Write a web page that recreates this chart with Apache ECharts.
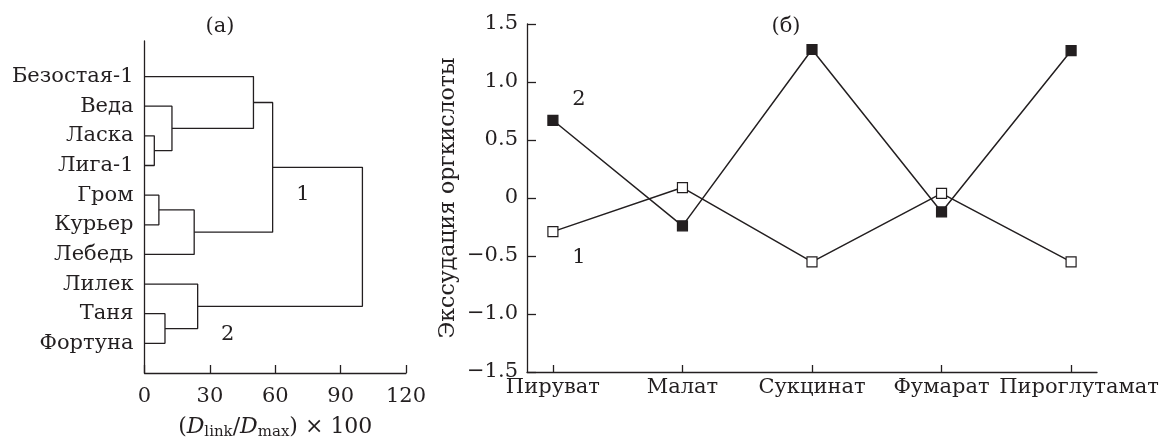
<!DOCTYPE html>
<html><head><meta charset="utf-8">
<script src="https://cdn.jsdelivr.net/npm/echarts@6/dist/echarts.min.js"></script>
<style>html,body{margin:0;padding:0;background:#fff}#c{width:1163px;height:439px}</style>
</head><body><div id="c"></div>
<script>
// ---- Panel (a): dendrogram ----
const leaves = ['Безостая-1','Веда','Ласка','Лига-1','Гром','Курьер','Лебедь','Лилек','Таня','Фортуна'];
const mergePairs = [['Ласка','Лига-1'],['Веда','m0'],['Безостая-1','m1'],['Гром','Курьер'],['m3','Лебедь'],['m2','m4'],['Таня','Фортуна'],['Лилек','m6'],['m5','m7']];
const mergeHeights = [4.5, 12.6, 50, 6.6, 22.8, 58.8, 9.4, 24.4, 100];
const dendroTicks = [0, 30, 60, 90, 120];
const clusterLabels = ['1','2'];
const clusterLabelPos = [[72.7, 6.03],[38.2, 1.31]];

// ---- Panel (б): line chart ----
const acids = ['Пируват','Малат','Сукцинат','Фумарат','Пироглутамат'];
const series1 = [-0.29, 0.09, -0.55, 0.04, -0.55];
const series2 = [0.67, -0.24, 1.28, -0.12, 1.27];
const seriesLabels = ['1','2'];
const seriesLabelPos = [[0.2, -0.51],[0.2, 0.85]];

const FONT = 'DejaVu Serif';
const TXT = '#231f20';
const FS = 21;

// build dendrogram nodes
const nodes = {};
leaves.forEach((n, i) => { nodes[n] = {h: 0, y: leaves.length - i}; });
const linkSeries = [];
mergePairs.forEach((p, i) => {
  const a = nodes[p[0]], b = nodes[p[1]], h = mergeHeights[i];
  nodes['m' + i] = {h: h, y: (a.y + b.y) / 2};
  linkSeries.push({
    type: 'line', xAxisIndex: 0, yAxisIndex: 0, symbol: 'none', silent: true,
    lineStyle: {color: TXT, width: 1.3},
    data: [[a.h, a.y],[h, a.y],[h, b.y],[b.h, b.y]]
  });
});

const annLabel = arr => ({show: true, position: 'inside', formatter: p => arr[p.dataIndex],
  fontFamily: FONT, fontSize: FS, color: TXT, textBorderWidth: 0, opacity: 1});

const chart = echarts.init(document.getElementById('c'));
chart.setOption({
  animation: false,
  backgroundColor: '#fff',
  textStyle: {fontFamily: FONT, color: TXT},
  title: [
    {text: '(a)', left: 215, top: 11, textAlign: 'center', textStyle: {fontFamily: FONT, fontSize: FS, fontWeight: 'normal', color: TXT}},
    {text: '(б)', left: 781, top: 11, textAlign: 'center', textStyle: {fontFamily: FONT, fontSize: FS, fontWeight: 'normal', color: TXT}}
  ],
  grid: [
    {left: 144.5, right: 757, top: 41, bottom: 66, containLabel: false, outerBoundsMode: 'none'},
    {left: 527, right: 66, top: 24, bottom: 67, containLabel: false, outerBoundsMode: 'none'}
  ],
  xAxis: [
    {type: 'value', gridIndex: 0, min: 0, max: 120, interval: 30,
     axisLine: {onZero: false, lineStyle: {color: TXT, width: 1.3}},
     axisTick: {inside: true, length: 8, lineStyle: {color: TXT, width: 1.3}},
     splitLine: {show: false},
     axisLabel: {margin: 13, fontSize: FS, fontFamily: FONT, color: TXT,
       formatter: v => dendroTicks.indexOf(v) >= 0 ? String(v) : ''},
     name: '{p|(}{d|D}{s|link}{p|/}{d|D}{s|max}{p|) × 100}', nameLocation: 'middle', nameGap: 42,
     nameTextStyle: {rich: {
       p: {fontFamily: FONT, fontSize: 22, color: TXT},
       d: {fontFamily: FONT, fontSize: 22, fontStyle: 'italic', color: TXT},
       s: {fontFamily: FONT, fontSize: 15, color: TXT, verticalAlign: 'bottom', padding: [10, 0, 0, 0]}
     }}
    },
    {type: 'value', gridIndex: 1, min: -0.2, max: 4.2,
     axisLine: {onZero: false, lineStyle: {color: TXT, width: 1.3}},
     axisTick: {inside: true, length: 7, customValues: [0,1,2,3,4], lineStyle: {color: TXT, width: 1.3}},
     splitLine: {show: false},
     axisLabel: {margin: 5, fontSize: FS, fontFamily: FONT, color: TXT, customValues: [0,1,2,3,4],
       formatter: v => {
         const i = Math.round(v);
         if (!acids[i]) return '';
         return i === acids.length - 1 ? '{r|' + acids[i] + '}' : acids[i];
       },
       rich: {r: {fontFamily: FONT, fontSize: FS, color: TXT, padding: [0, 0, 0, 16]}}
     }
    }
  ],
  yAxis: [
    {type: 'value', gridIndex: 0, min: 0, max: 11.2, interval: 1,
     axisLine: {show: true, onZero: false, lineStyle: {color: TXT, width: 1.3}},
     axisTick: {show: false}, splitLine: {show: false},
     axisLabel: {margin: 11, fontSize: FS, fontFamily: FONT, color: TXT,
       formatter: v => (v >= 1 && v <= leaves.length) ? leaves[leaves.length - v] : ''}
    },
    {type: 'value', gridIndex: 1, min: -1.5, max: 1.5, interval: 0.5,
     axisLine: {show: true, onZero: false, lineStyle: {color: TXT, width: 1.3}},
     axisTick: {inside: true, length: 9, lineStyle: {color: TXT, width: 1.3}},
     splitLine: {show: false},
     axisLabel: {margin: 9, fontSize: FS, fontFamily: FONT, color: TXT,
       formatter: v => v === 0 ? '0' : (v < 0 ? '−' : '') + Math.abs(v).toFixed(1)},
     name: 'Экссудация оргкислоты', nameLocation: 'middle', nameGap: 68,
     nameTextStyle: {fontFamily: FONT, fontSize: 22, color: TXT}
    }
  ],
  series: linkSeries.concat([
    {type: 'scatter', xAxisIndex: 0, yAxisIndex: 0, symbolSize: 0, silent: true,
     itemStyle: {color: TXT, opacity: 1}, label: annLabel(clusterLabels), data: clusterLabelPos},
    {type: 'line', xAxisIndex: 1, yAxisIndex: 1, symbol: 'rect', symbolSize: 10,
     lineStyle: {color: TXT, width: 1.5},
     itemStyle: {color: '#fff', borderColor: TXT, borderWidth: 1.2},
     data: series1.map((v, i) => [i, v])},
    {type: 'line', xAxisIndex: 1, yAxisIndex: 1, symbol: 'rect', symbolSize: 10,
     lineStyle: {color: TXT, width: 1.5},
     itemStyle: {color: TXT, borderColor: TXT, borderWidth: 1.2},
     data: series2.map((v, i) => [i, v])},
    {type: 'scatter', xAxisIndex: 1, yAxisIndex: 1, symbolSize: 0, silent: true,
     itemStyle: {color: TXT, opacity: 1}, label: annLabel(seriesLabels), data: seriesLabelPos}
  ])
});
</script></body></html>
